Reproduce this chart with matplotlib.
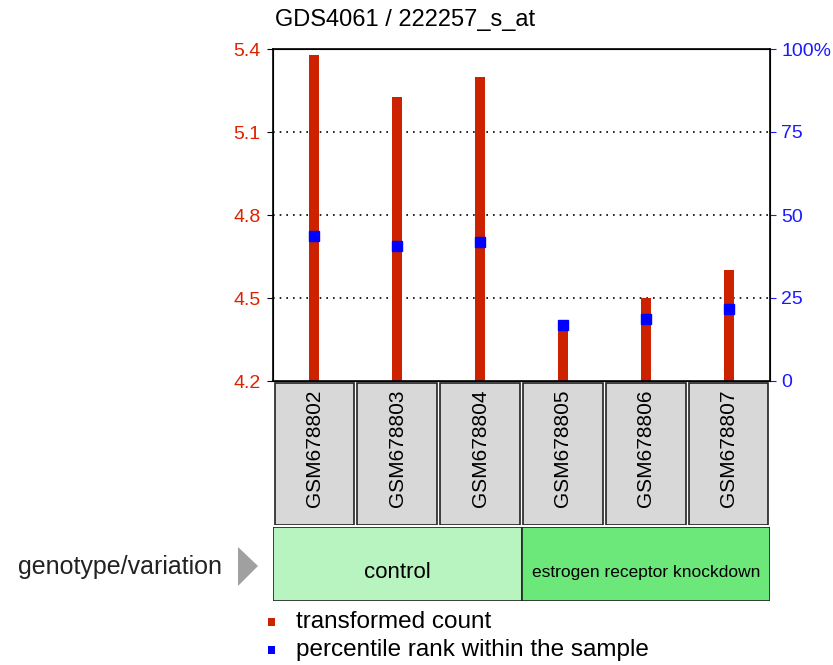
import matplotlib.pyplot as plt
from matplotlib.patches import Rectangle, Polygon

plt.rcParams['font.family'] = ['Liberation Sans', 'DejaVu Sans']

# data
samples = ["GSM678802", "GSM678803", "GSM678804", "GSM678805", "GSM678806", "GSM678807"]
counts = [5.378, 5.225, 5.298, 4.415, 4.501, 4.601]
percentiles = [43.6, 40.6, 41.8, 16.9, 18.8, 21.8]
groups = ["control", "estrogen receptor knockdown"]
group_sizes = [3, 3]
group_colors = ["#b8f4c0", "#6ce87a"]
left_ticks = [4.2, 4.5, 4.8, 5.1, 5.4]
right_ticks = [0, 25, 50, 75, 100]
right_labels = ["0", "25", "50", "75", "100%"]

W, H = 833, 665
fig = plt.figure(figsize=(W / 100, H / 100), dpi=100)

def fbox(x0, y0, x1, y1):
    # pixel box -> figure fraction rect
    return [x0 / W, 1 - y1 / H, (x1 - x0) / W, (y1 - y0) / H]

# main plot
ax = fig.add_axes(fbox(273, 49, 770, 381))
x = range(len(samples))
ax.bar(x, [c - 4.2 for c in counts], bottom=4.2, width=0.12, color="#cc2200", zorder=2)
ax.set_xlim(-0.5, len(samples) - 0.5)
ax.set_ylim(4.2, 5.4)
ax.set_yticks(left_ticks)
ax.set_yticklabels([f"{t:.1f}" for t in left_ticks], color="#dd2200", fontsize=14)
ax.set_xticks(list(x))
ax.set_xticklabels([])
ax.tick_params(axis="x", length=4, direction="in")
ax.tick_params(axis="y", length=4, color="black", pad=5)
for t in left_ticks[1:-1]:
    ax.axhline(t, color="black", linestyle=(0, (1, 3)), linewidth=1.2, zorder=1)
for s in ax.spines.values():
    s.set_linewidth(1.2)

ax2 = ax.twinx()
ax2.set_ylim(0, 100)
ax2.set_yticks(right_ticks)
ax2.set_yticklabels(right_labels, color="#1a1aff", fontsize=14)
ax2.tick_params(axis="y", length=4, color="#1a1aff", pad=4)
ax2.plot(list(x), percentiles, linestyle="none", marker="s", markersize=7,
         color="#0000ff", zorder=3)
ax2.set_xlim(-0.5, len(samples) - 0.5)

fig.text(275 / W, 1 - 20 / H, "GDS4061 / 222257_s_at", fontsize=17,
         ha="left", va="center")

# sample label boxes
axs = fig.add_axes(fbox(273, 381, 770, 525))
axs.set_xlim(0, len(samples))
axs.set_ylim(0, 1)
axs.axis("off")
for i, name in enumerate(samples):
    axs.add_patch(Rectangle((i + 0.02, 0.0), 0.96, 0.985, facecolor="#d8d8d8",
                            edgecolor="#222222", linewidth=1.2))
    axs.text(i + 0.5, 0.94, name, rotation=90, ha="center", va="top", fontsize=15)

# group boxes
axg = fig.add_axes(fbox(273, 527, 770, 601))
axg.set_xlim(0, len(samples))
axg.set_ylim(0, 1)
axg.axis("off")
start = 0
for g, n, c in zip(groups, group_sizes, group_colors):
    axg.add_patch(Rectangle((start, 0), n, 1, facecolor=c, edgecolor="#222222",
                            linewidth=1.2))
    fs = 16 if len(g) < 12 else 12.5
    axg.text(start + n / 2, 0.38, g, ha="center", va="center", fontsize=fs)
    start += n

fig.text(18 / W, 1 - 567 / H, "genotype/variation", fontsize=18, ha="left",
         va="center", color="#222222")
fig.patches.append(Polygon([[238 / W, 1 - 547 / H], [238 / W, 1 - 586 / H],
                            [258 / W, 1 - 566 / H]], closed=True,
                           facecolor="#a0a0a0", edgecolor="none",
                           transform=fig.transFigure, figure=fig))

# legend
leg = [("transformed count", "#cc2200", 622), ("percentile rank within the sample", "#0000ff", 650)]
for label, col, yy in leg:
    fig.patches.append(Rectangle((268 / W, 1 - (yy + 4) / H), 7 / W, 8 / H,
                                 facecolor=col, edgecolor="none",
                                 transform=fig.transFigure, figure=fig))
    fig.text(296 / W, 1 - yy / H, label, fontsize=17.5, ha="left", va="center")

fig.savefig("out.png", dpi=100)
